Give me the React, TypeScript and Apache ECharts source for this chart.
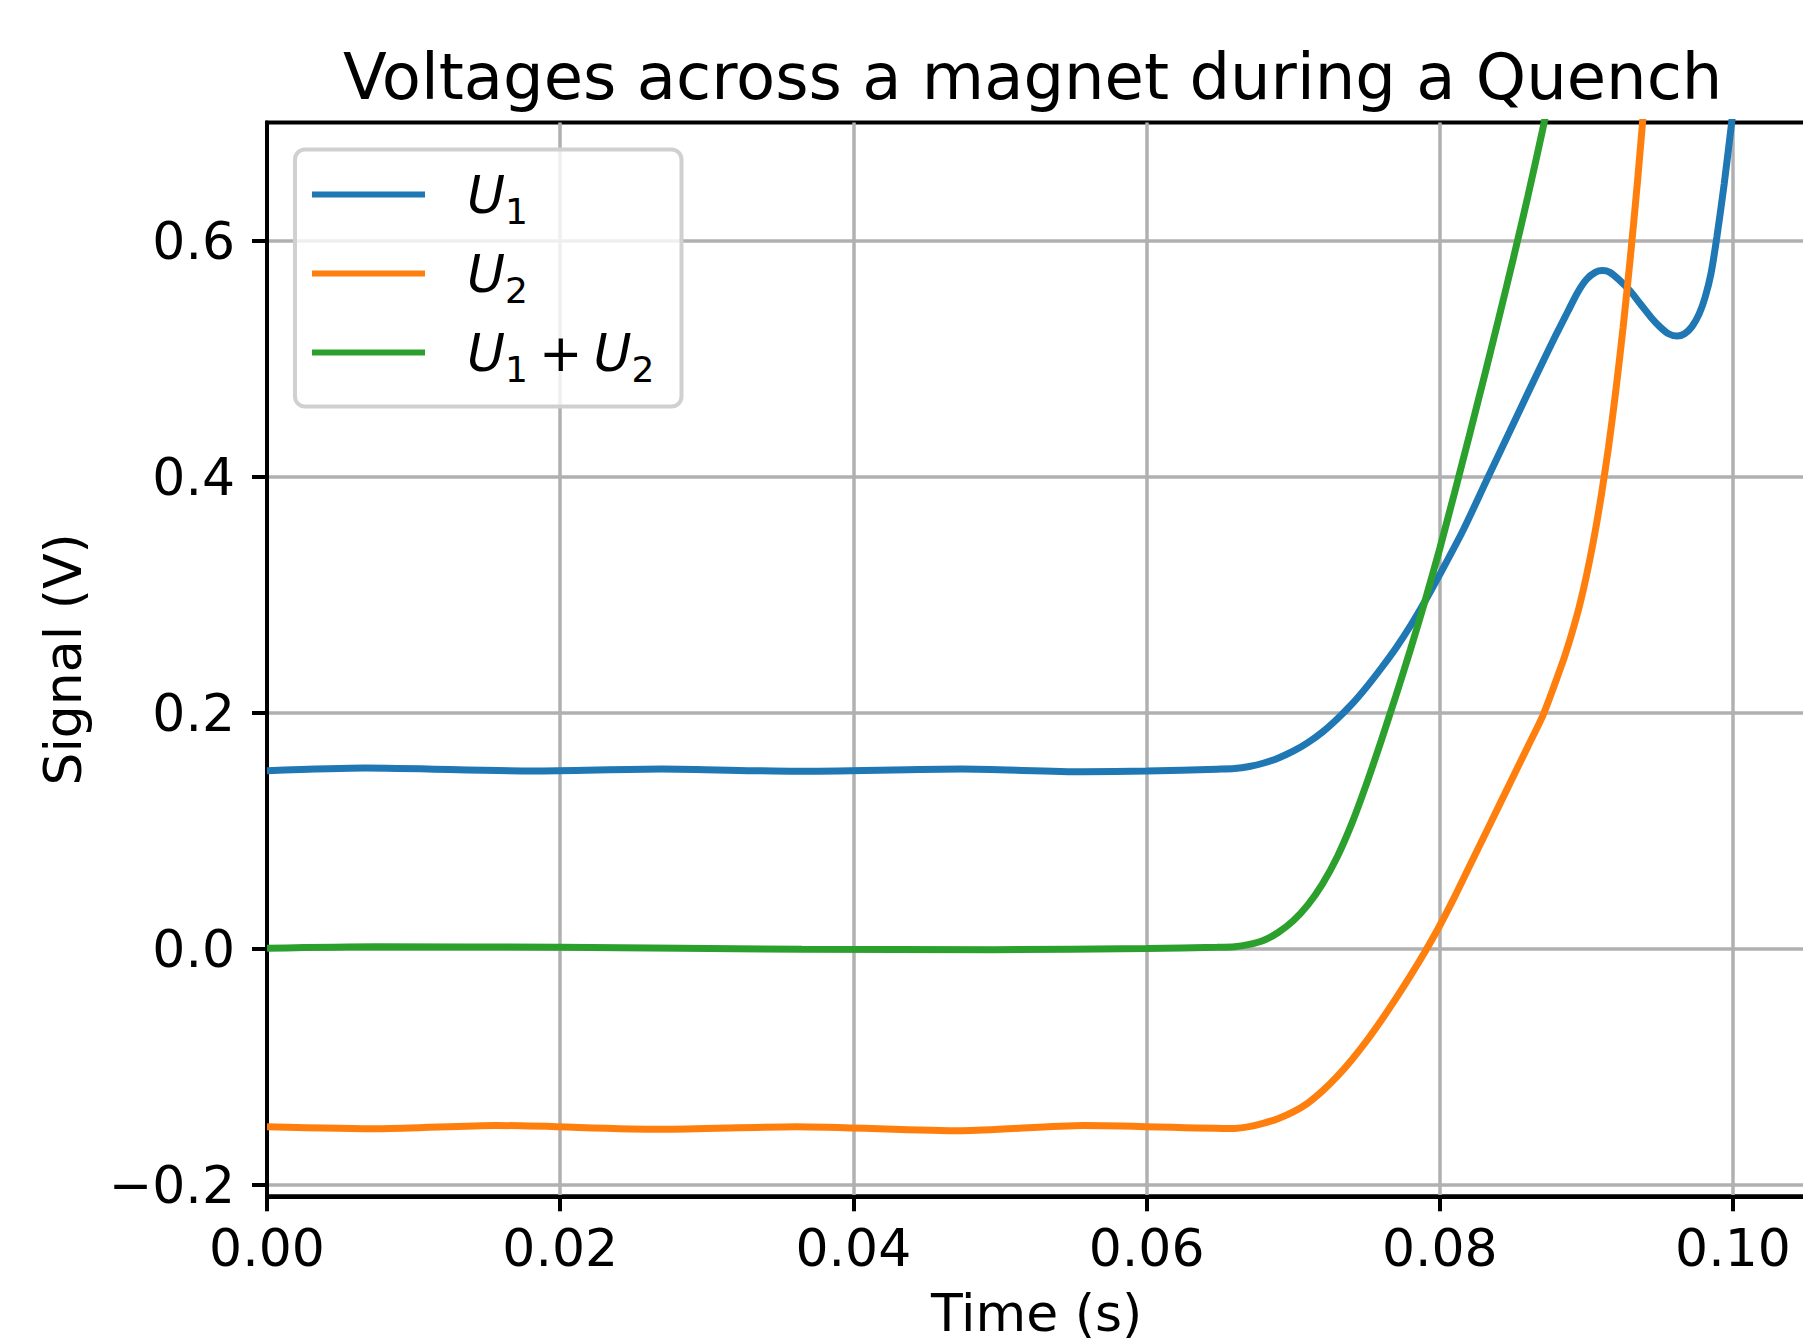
import React, { useEffect, useRef } from 'react';
import * as echarts from 'echarts';

// ---- data (time in s, voltage in V) ----
const u1Time = [0, 0.0067, 0.0182, 0.0269, 0.0361, 0.0474, 0.0557, 0.06, 0.0648, 0.066, 0.067, 0.068, 0.069, 0.07, 0.071, 0.072, 0.073, 0.074, 0.075, 0.076, 0.077, 0.078, 0.079, 0.08, 0.0816, 0.0832, 0.0848, 0.0864, 0.0878, 0.0887, 0.0894, 0.09, 0.0906, 0.0911, 0.0916, 0.0922, 0.093, 0.0937, 0.0944, 0.095, 0.0956, 0.0962, 0.0967, 0.0972, 0.0977, 0.0981, 0.0985, 0.0989, 0.0994, 0.0999, 0.1002];
const u1Values = [0.1507, 0.153, 0.1504, 0.1521, 0.1502, 0.1521, 0.1498, 0.1504, 0.152, 0.1525, 0.1542, 0.1572, 0.1615, 0.1672, 0.1745, 0.1835, 0.1945, 0.207, 0.2215, 0.2375, 0.2545, 0.2735, 0.2945, 0.317, 0.3547, 0.397, 0.439, 0.481, 0.517, 0.539, 0.556, 0.567, 0.573, 0.5745, 0.573, 0.567, 0.557, 0.546, 0.535, 0.527, 0.521, 0.519, 0.521, 0.527, 0.538, 0.552, 0.572, 0.603, 0.648, 0.699, 0.73];

const u2Time = [0, 0.0078, 0.0156, 0.0269, 0.0361, 0.0474, 0.0557, 0.066, 0.067, 0.068, 0.069, 0.07, 0.071, 0.072, 0.073, 0.074, 0.075, 0.076, 0.077, 0.078, 0.079, 0.08, 0.081, 0.082, 0.083, 0.084, 0.085, 0.086, 0.087, 0.0875, 0.088, 0.0885, 0.089, 0.0895, 0.09, 0.0905, 0.091, 0.0915, 0.092, 0.0925, 0.093, 0.0935, 0.094];
const u2Values = [-0.151, -0.1527, -0.15, -0.1532, -0.151, -0.1544, -0.15, -0.1525, -0.151, -0.148, -0.144, -0.1385, -0.131, -0.1207, -0.1084, -0.0942, -0.0784, -0.061, -0.0425, -0.023, -0.0025, 0.0195, 0.0435, 0.069, 0.0945, 0.12, 0.1455, 0.171, 0.1965, 0.2125, 0.2295, 0.247, 0.2667, 0.289, 0.3157, 0.3467, 0.3827, 0.424, 0.472, 0.526, 0.586, 0.652, 0.725];

const sumTime = [0, 0.0074, 0.02, 0.0365, 0.0496, 0.06, 0.0648, 0.066, 0.067, 0.068, 0.069, 0.07, 0.071, 0.072, 0.073, 0.074, 0.075, 0.076, 0.077, 0.078, 0.079, 0.08, 0.081, 0.082, 0.083, 0.084, 0.085, 0.086, 0.087, 0.0876];
const sumValues = [0.0002, 0.0015, 0.001, -0.0007, -0.001, 0, 0.001, 0.0015, 0.0035, 0.007, 0.0138, 0.0235, 0.037, 0.0548, 0.0775, 0.106, 0.1395, 0.176, 0.214, 0.2535, 0.295, 0.339, 0.386, 0.434, 0.483, 0.533, 0.584, 0.637, 0.693, 0.73];

const seriesNames = ['U1', 'U2', 'U1 + U2'];
const seriesColors = ['#1f77b4', '#ff7f0e', '#2ca02c'];
const xTicks = [0, 0.02, 0.04, 0.06, 0.08, 0.1];
const yTicks = [-0.2, 0, 0.2, 0.4, 0.6];

const zip = (t: number[], v: number[]) => t.map((x, i) => [x, v[i]]);

const FONT = 'DejaVu Sans';

export default function App() {
  const ref = useRef<HTMLDivElement>(null);
  useEffect(() => {
    const chart = echarts.init(ref.current!, null, { renderer: 'svg' });
    const legendRich: Record<string, string> = {
      'U1': '{u|U}{s|1}',
      'U2': '{u|U}{s|2}',
      'U1 + U2': '{u|U}{s|1}{p|+}{u|U}{s|2}',
    };
    chart.setOption({
      animation: false,
      backgroundColor: '#ffffff',
      textStyle: { fontFamily: FONT },
      title: {
        text: 'Voltages across a magnet during a Quench',
        left: 343,
        top: 45,
        padding: 0,
        textStyle: { fontFamily: FONT, fontSize: 64, fontWeight: 'normal', color: '#000' },
      },
      grid: {
        left: 267,
        top: 122.5,
        width: 1539.3,
        height: 1073.8,
        show: true,
        borderColor: '#000',
        borderWidth: 4,
        backgroundColor: 'transparent',
        containLabel: false,
        outerBoundsMode: 'none',
      },
      legend: {
        orient: 'vertical',
        left: 295,
        top: 149.5,
        padding: [19, 27, 19, 17],
        itemGap: 18,
        itemWidth: 113,
        itemHeight: 6,
        icon: 'rect',
        backgroundColor: 'rgba(255,255,255,0.8)',
        borderColor: '#d0d0d0',
        borderWidth: 4,
        borderRadius: 10,
        data: seriesNames,
        formatter: (name: string) => legendRich[name] || name,
        textStyle: {
          padding: [0, 0, 0, 37],
          rich: {
            u: { fontFamily: FONT, fontSize: 52, fontStyle: 'italic', color: '#000', lineHeight: 70, verticalAlign: 'middle' },
            s: { fontFamily: FONT, fontSize: 36, color: '#000', lineHeight: 41, verticalAlign: 'bottom' },
            p: { fontFamily: FONT, fontSize: 52, color: '#000', lineHeight: 70, verticalAlign: 'middle', padding: [0, 11, 0, 11] },
          },
        },
      },
      xAxis: {
        type: 'value',
        min: 0,
        max: 0.105,
        splitNumber: 5,
        name: 'Time (s)',
        nameLocation: 'middle',
        nameGap: 91,
        nameTextStyle: { fontFamily: FONT, fontSize: 52, color: '#000' },
        axisLine: { show: true, onZero: false, lineStyle: { color: '#000', width: 4 } },
        axisTick: { show: true, length: 15, lineStyle: { color: '#000', width: 4 }, customValues: xTicks },
        axisLabel: {
          show: true, margin: 26, fontFamily: FONT, fontSize: 52, color: '#000',
          customValues: xTicks,
          formatter: (v: number) => v.toFixed(2),
        },
        splitLine: { show: true, lineStyle: { color: '#b0b0b0', width: 3.5 } },
      },
      yAxis: {
        type: 'value',
        min: -0.21,
        max: 0.7,
        splitNumber: 5,
        name: 'Signal (V)',
        nameLocation: 'middle',
        nameGap: 178,
        nameRotate: 90,
        nameTextStyle: { fontFamily: FONT, fontSize: 52, color: '#000' },
        axisLine: { show: true, onZero: false, lineStyle: { color: '#000', width: 4 } },
        axisTick: { show: true, length: 15, lineStyle: { color: '#000', width: 4 }, customValues: yTicks },
        axisLabel: {
          show: true, margin: 32, fontFamily: FONT, fontSize: 52, color: '#000',
          customValues: yTicks,
          formatter: (v: number) => v.toFixed(1).replace('-', '\u2212'),
        },
        splitLine: { show: true, lineStyle: { color: '#b0b0b0', width: 3.5 } },
      },
      series: [
        { name: seriesNames[0], type: 'line', data: zip(u1Time, u1Values), color: seriesColors[0] },
        { name: seriesNames[1], type: 'line', data: zip(u2Time, u2Values), color: seriesColors[1] },
        { name: seriesNames[2], type: 'line', data: zip(sumTime, sumValues), color: seriesColors[2] },
      ].map((s) => ({
        ...s,
        showSymbol: false,
        symbol: 'none',
        smooth: 0.25,
        clip: true,
        lineStyle: { width: 7, color: s.color },
        emphasis: { disabled: true },
      })),
    });
    return () => chart.dispose();
  }, []);
  return (
    <div
      ref={ref}
      style={{ position: 'fixed', left: 0, top: 0, width: 1803, height: 1343, background: '#fff' }}
    />
  );
}
